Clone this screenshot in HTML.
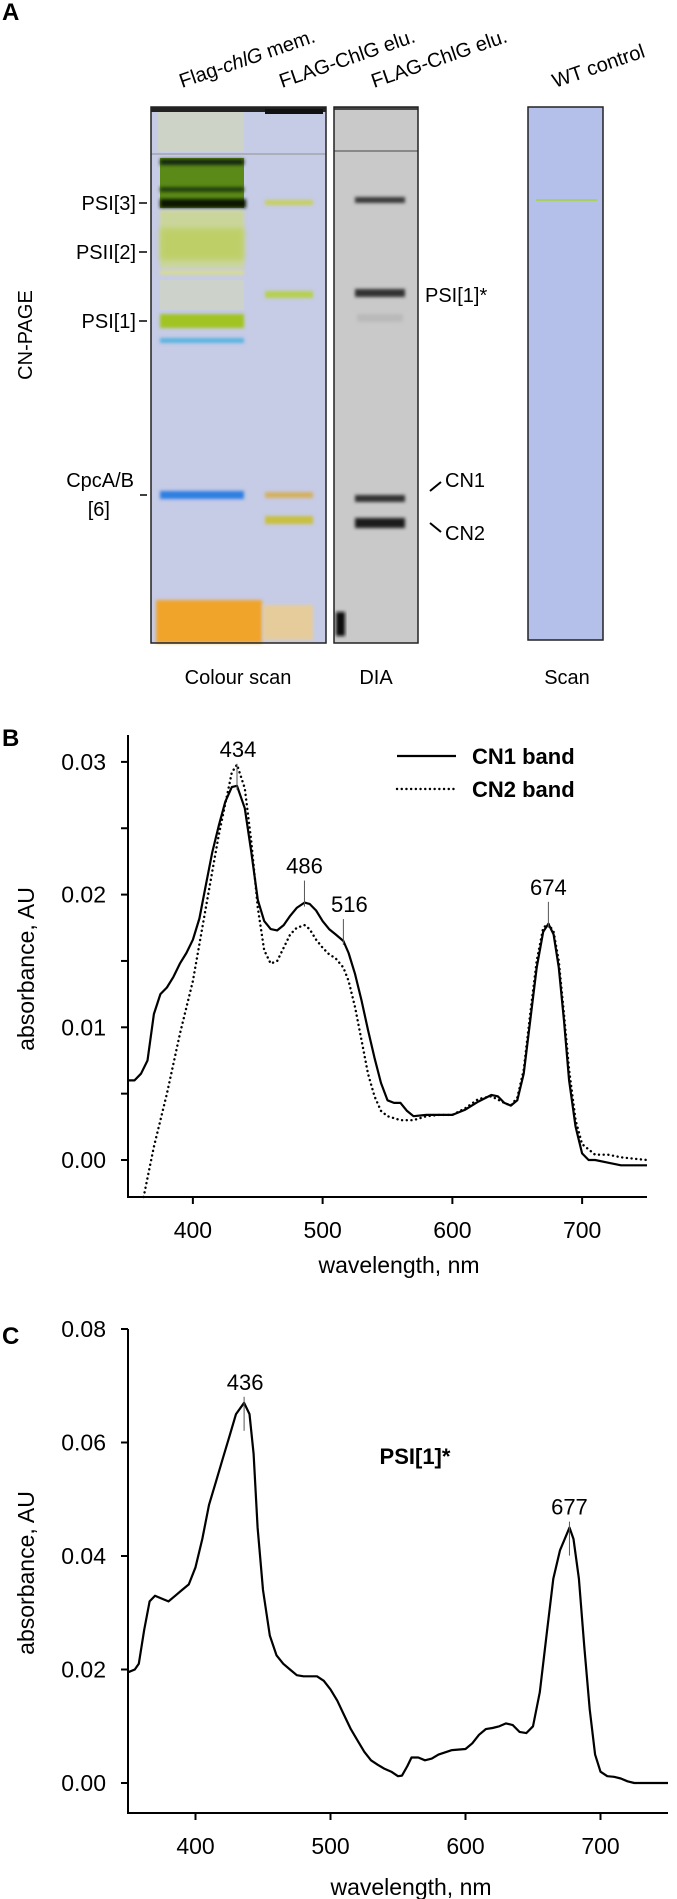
<!DOCTYPE html>
<html><head><meta charset="utf-8">
<style>
html,body{margin:0;padding:0;background:#fff;}
svg{display:block;font-family:"Liberation Sans",Arial,sans-serif;}
</style></head>
<body>
<svg id="fig" width="677" height="1899" viewBox="0 0 677 1899" xmlns="http://www.w3.org/2000/svg">
<defs>
<filter id="blur2" x="-20%" y="-200%" width="140%" height="500%"><feGaussianBlur stdDeviation="1.6"/></filter>
<filter id="blur4" x="-20%" y="-100%" width="140%" height="300%"><feGaussianBlur stdDeviation="3"/></filter>
</defs>

<!-- Panel A -->
<g>
<text x="2" y="20" font-size="24" font-weight="bold">A</text>
<g font-size="20">
<text transform="translate(182,88) rotate(-19)">Flag-<tspan font-style="italic">chlG</tspan> mem.</text>
<text transform="translate(282,88) rotate(-19)">FLAG-ChlG elu.</text>
<text transform="translate(374,88) rotate(-19)">FLAG-ChlG elu.</text>
<text transform="translate(555,88) rotate(-19)">WT control</text>
</g>
<text transform="translate(32,335) rotate(-90)" text-anchor="middle" font-size="20">CN-PAGE</text>

<!-- colour scan gel -->
<g>
<rect x="151" y="107" width="175" height="536" fill="#c6cbe6"/>
<rect x="158" y="112" width="86" height="40" fill="#d6dca8" opacity="0.5"/>
<rect x="151" y="107" width="175" height="5" fill="#222"/>
<rect x="151" y="153" width="175" height="2" fill="#a0a2a8" opacity="0.7"/>
<rect x="160" y="158" width="84" height="50" fill="#5c8a18"/>
<rect x="160" y="159" width="84" height="6" fill="#152a08" filter="url(#blur2)"/>
<rect x="160" y="187" width="84" height="5" fill="#23400e" filter="url(#blur2)"/>
<rect x="160" y="199" width="86" height="9" fill="#0c1606" filter="url(#blur2)"/>
<rect x="160" y="210" width="84" height="58" fill="#ccd88a" opacity="0.8" filter="url(#blur2)"/>
<rect x="160" y="228" width="84" height="32" fill="#bccf60" opacity="0.85" filter="url(#blur4)"/>
<rect x="160" y="270" width="84" height="5" fill="#d6da98" filter="url(#blur2)"/>
<rect x="160" y="280" width="84" height="30" fill="#d4dcb0" opacity="0.5"/>
<rect x="160" y="314" width="84" height="14" fill="#a2c422" filter="url(#blur2)"/>
<rect x="160" y="338" width="84" height="5" fill="#58b4e0" filter="url(#blur2)"/>
<rect x="160" y="491" width="84" height="8" fill="#2f7fe2" filter="url(#blur2)"/>
<rect x="156" y="600" width="106" height="43" fill="#f0a42a" filter="url(#blur2)"/>
<rect x="265" y="109" width="58" height="5" fill="#111"/>
<rect x="265" y="200" width="48" height="5" fill="#c6d05c" filter="url(#blur2)"/>
<rect x="265" y="291" width="48" height="7" fill="#b6d050" filter="url(#blur2)"/>
<rect x="265" y="492" width="48" height="6" fill="#d4b060" filter="url(#blur2)"/>
<rect x="265" y="516" width="48" height="8" fill="#c8c040" filter="url(#blur2)"/>
<rect x="263" y="605" width="50" height="35" fill="#e6cc9a" filter="url(#blur2)"/>
<rect x="151" y="107" width="175" height="536" fill="none" stroke="#222" stroke-width="1.5"/>
</g>

<!-- DIA gel -->
<g>
<rect x="334" y="107" width="84" height="536" fill="#c9c9c9"/>
<rect x="334" y="107" width="84" height="3" fill="#444"/>
<rect x="334" y="150" width="84" height="2" fill="#888"/>
<rect x="355" y="197" width="50" height="6" fill="#3a3a3a" filter="url(#blur2)"/>
<rect x="355" y="289" width="50" height="8" fill="#303030" filter="url(#blur2)"/>
<rect x="357" y="314" width="46" height="8" fill="#bababa" filter="url(#blur2)"/>
<rect x="355" y="495" width="50" height="7" fill="#333" filter="url(#blur2)"/>
<rect x="355" y="518" width="50" height="10" fill="#1c1c1c" filter="url(#blur2)"/>
<rect x="336" y="612" width="9" height="24" fill="#111" filter="url(#blur2)"/>
<rect x="334" y="107" width="84" height="536" fill="none" stroke="#222" stroke-width="1.5"/>
</g>

<!-- WT scan -->
<g>
<rect x="528" y="107" width="75" height="533" fill="#b5c0ea" stroke="#222" stroke-width="1.5"/>
<rect x="536" y="199" width="61" height="2" fill="#a6d060"/>
</g>

<g font-size="20" text-anchor="end">
<text x="136" y="210">PSI[3]</text>
<text x="136" y="259">PSII[2]</text>
<text x="136" y="328">PSI[1]</text>
<text x="134" y="487">CpcA/B</text>
<text x="110" y="516">[6]</text>
</g>
<g stroke="#000" stroke-width="1.5">
<line x1="139" y1="203" x2="147" y2="203"/>
<line x1="139" y1="252" x2="147" y2="252"/>
<line x1="139" y1="321" x2="147" y2="321"/>
<line x1="140" y1="495" x2="147" y2="495"/>
<line x1="430" y1="491" x2="441" y2="482" stroke-width="2"/>
<line x1="430" y1="523" x2="441" y2="532" stroke-width="2"/>
</g>
<g font-size="20">
<text x="425" y="302">PSI[1]*</text>
<text x="445" y="487">CN1</text>
<text x="445" y="540">CN2</text>
</g>
<g font-size="20" text-anchor="middle">
<text x="238" y="684">Colour scan</text>
<text x="376" y="684">DIA</text>
<text x="567" y="684">Scan</text>
</g>
</g>

<!-- Panel B -->
<g id="panelB">
<text x="2" y="746" font-size="24" font-weight="bold">B</text>
</g>
<!-- Panel C -->
<g id="panelC">
<text x="2" y="1344" font-size="24" font-weight="bold">C</text>
</g>
</svg>

<script>
// ---- Panel B data ----
const bCN1Wl = [350,355,360,365,370,375,380,385,390,395,400,405,410,415,420,425,430,434,440,445,450,455,460,465,470,475,480,486,490,495,500,505,510,516,520,525,530,535,540,545,550,555,560,565,570,580,590,600,610,620,630,635,640,645,650,655,660,665,670,674,678,682,686,690,695,700,705,710,720,730,740,750];
const bCN1Abs = [0.006,0.006,0.0065,0.0075,0.011,0.0125,0.013,0.0138,0.0148,0.0156,0.0166,0.0182,0.0207,0.0232,0.0252,0.0270,0.0281,0.0282,0.0265,0.0232,0.0196,0.0180,0.0174,0.0173,0.0177,0.0184,0.0190,0.0194,0.0193,0.0188,0.0180,0.0174,0.0170,0.0165,0.0156,0.0140,0.0120,0.0098,0.0077,0.0058,0.0045,0.0043,0.0043,0.0037,0.0033,0.0034,0.0034,0.0034,0.0038,0.0044,0.0049,0.0048,0.0043,0.0041,0.0045,0.0065,0.0105,0.0145,0.0172,0.0178,0.0170,0.0145,0.0105,0.0060,0.0025,0.0005,0.0,0.0,-0.0002,-0.0004,-0.0004,-0.0004];
const bCN2Wl = [362,370,380,390,400,410,420,430,434,440,445,450,455,460,465,470,475,480,486,490,495,500,505,510,516,520,525,530,535,540,545,550,560,570,580,590,600,610,620,630,640,645,650,655,660,665,670,674,678,682,686,690,695,700,710,720,730,740,750];
const bCN2Abs = [-0.003,0.001,0.005,0.0095,0.0135,0.019,0.0245,0.0292,0.0298,0.028,0.024,0.019,0.0158,0.0148,0.015,0.016,0.017,0.0175,0.0177,0.0174,0.0166,0.016,0.0155,0.0152,0.0145,0.0135,0.0115,0.009,0.0065,0.0048,0.0037,0.0033,0.003,0.003,0.0033,0.0034,0.0034,0.0039,0.0046,0.0048,0.0043,0.0041,0.0047,0.0068,0.011,0.015,0.0175,0.0178,0.0172,0.015,0.011,0.0068,0.003,0.0012,0.0004,0.0004,0.0002,0.0001,0.0];
const bXTicks = [400,500,600,700];
const bYTicks = [0,0.005,0.01,0.015,0.02,0.025,0.03];
const bYLabels = ["0.00","","0.01","","0.02","","0.03"];
const bPeakWl = [434,486,516,674];
const bPeakAbs = [0.0282,0.0194,0.0165,0.0178];
const bPeakLabels = ["434","486","516","674"];

// ---- Panel C data ----
const cWl = [350,355,358,362,366,370,375,380,385,390,395,400,405,410,415,420,425,430,436,440,443,446,450,455,460,465,470,475,480,490,495,500,505,510,515,520,525,530,535,540,545,550,553,557,560,565,570,575,580,590,600,605,610,615,620,625,630,635,640,645,650,655,660,665,670,677,680,684,688,692,696,700,705,710,715,720,725,735,750];
const cAbs = [0.0195,0.020,0.021,0.027,0.032,0.033,0.0325,0.032,0.033,0.034,0.035,0.038,0.043,0.049,0.053,0.057,0.061,0.065,0.067,0.065,0.058,0.045,0.034,0.026,0.0225,0.021,0.020,0.019,0.0188,0.0188,0.018,0.0165,0.0145,0.012,0.0095,0.0075,0.0055,0.004,0.0032,0.0025,0.002,0.0012,0.0013,0.003,0.0045,0.0045,0.004,0.0043,0.005,0.0058,0.006,0.007,0.0085,0.0095,0.0097,0.010,0.0105,0.0102,0.009,0.0088,0.010,0.016,0.026,0.036,0.041,0.045,0.043,0.036,0.024,0.013,0.005,0.002,0.0012,0.0011,0.0008,0.0003,0.0,0.0,0.0];
const cXTicks = [400,500,600,700];
const cYTicks = [0,0.02,0.04,0.06,0.08];
const cYLabels = ["0.00","0.02","0.04","0.06","0.08"];
const cPeakWl = [436,677];
const cPeakAbs = [0.067,0.045];
const cPeakLabels = ["436","677"];

const NS = "http://www.w3.org/2000/svg";
function mk(parent, tag, attrs, text){
  const e = document.createElementNS(NS, tag);
  for (const k in attrs) e.setAttribute(k, attrs[k]);
  if (text !== undefined) e.textContent = text;
  parent.appendChild(e);
  return e;
}

function drawChart(g, cfg){
  const X = v => cfg.x0 + (v - cfg.xmin) / (cfg.xmax - cfg.xmin) * (cfg.x1 - cfg.x0);
  const Y = v => cfg.yZero - v * cfg.yScale;
  const ax = mk(g, 'path', {d:`M${cfg.x0},${cfg.top} V${cfg.bottom} H${cfg.x1}`, fill:'none', stroke:'#000', 'stroke-width':2});
  
  
  cfg.xTicks.forEach(t=>{
    const l = mk(g,'line',{x1:X(t),x2:X(t),y1:cfg.bottom,y2:cfg.bottom+7,stroke:'#000','stroke-width':2});
    
    
    const tx = mk(g,'text',{x:X(t),y:cfg.bottom+41,'text-anchor':'middle','font-size':23},String(t));
    
    
  });
  cfg.yTicks.forEach((t,i)=>{
    const l = mk(g,'line',{x1:cfg.x0-7,x2:cfg.x0,y1:Y(t),y2:Y(t),stroke:'#000','stroke-width':2});
    
    
    if (cfg.yLabels[i]) {
      const tx = mk(g,'text',{x:cfg.x0-22,y:Y(t)+8,'text-anchor':'end','font-size':23},cfg.yLabels[i]);
      
      
    }
  });
  const xt = mk(g,'text',{x:cfg.xTitleX,y:cfg.xTitleY,'text-anchor':'middle','font-size':23},'wavelength, nm');
  
  
  const yt = mk(g,'text',{transform:`translate(${cfg.yTitleX},${cfg.yTitleY}) rotate(-90)`,'text-anchor':'middle','font-size':23},'absorbance, AU');
  
  
  cfg.series.forEach(s=>{
    const pts = s.wl.map((w,i)=>{
      const y = Math.min(Y(s.abs[i]), cfg.bottom);
      return X(w).toFixed(1)+','+y.toFixed(1);
    }).join(' ');
    const attrs = {points:pts,fill:'none',stroke:'#000','stroke-width':s.dotted?2.4:2.2,'stroke-linejoin':'round'};
    if (s.dotted){ attrs['stroke-dasharray']='0.1 4.6'; attrs['stroke-linecap']='round'; }
    const p = mk(g,'polyline',attrs);
    
    
  });
  cfg.peakWl.forEach((w,i)=>{
    const px = X(w), py = Y(cfg.peakAbs[i]);
    const l = mk(g,'line',{x1:px,x2:px,y1:py-cfg.peakLineUp,y2:py+cfg.peakLineDown,stroke:'#555','stroke-width':1});
    
    
    const tx = mk(g,'text',{x:px+ (cfg.peakDx[i]||0),y:py-cfg.peakLineUp-7,'text-anchor':'middle','font-size':22},cfg.peakLabels[i]);
    
    
  });
}

const gB = document.getElementById('panelB');
drawChart(gB,{x0:128,x1:647,xmin:350,xmax:750,top:735,bottom:1197,yZero:1160,yScale:13270,
  xTicks:bXTicks,yTicks:bYTicks,yLabels:bYLabels,xTitleX:399,xTitleY:1273,yTitleX:34,yTitleY:969,
  series:[{wl:bCN1Wl,abs:bCN1Abs,name:'cn1-band-line'},{wl:bCN2Wl,abs:bCN2Abs,name:'cn2-band-line',dotted:true}],
  peakWl:bPeakWl,peakAbs:bPeakAbs,peakLabels:bPeakLabels,peakLineUp:22,peakLineDown:4,peakDx:[1,0,6,0]});

const l1 = mk(gB,'line',{x1:397,x2:456,y1:756,y2:756,stroke:'#000','stroke-width':2.2});


const t1 = mk(gB,'text',{x:472,y:764,'font-size':22,'font-weight':'bold'},'CN1 band');


const l2 = mk(gB,'line',{x1:397,x2:456,y1:789,y2:789,stroke:'#000','stroke-width':2.4,'stroke-dasharray':'0.1 4.6','stroke-linecap':'round'});


const t2 = mk(gB,'text',{x:472,y:797,'font-size':22,'font-weight':'bold'},'CN2 band');



const gC = document.getElementById('panelC');
drawChart(gC,{x0:128,x1:668,xmin:350,xmax:750,top:1329,bottom:1813,yZero:1783,yScale:5675,
  xTicks:cXTicks,yTicks:cYTicks,yLabels:cYLabels,xTitleX:411,xTitleY:1895,yTitleX:34,yTitleY:1573,
  series:[{wl:cWl,abs:cAbs,name:'psi1-star-line'}],
  peakWl:cPeakWl,peakAbs:cPeakAbs,peakLabels:cPeakLabels,peakLineUp:6,peakLineDown:28,peakDx:[1,0]});
const tc = mk(gC,'text',{x:415,y:1464,'text-anchor':'middle','font-size':22,'font-weight':'bold'},'PSI[1]*');


</script>
</body></html>
